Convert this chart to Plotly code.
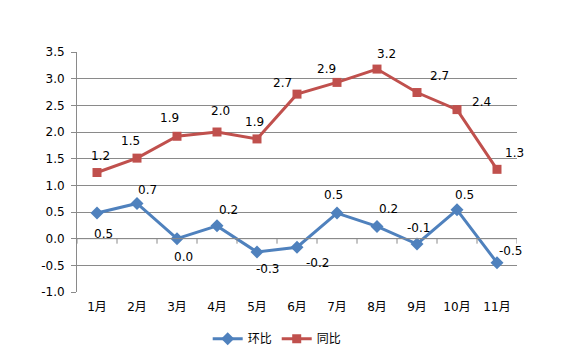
import plotly.graph_objects as go

months = ["1月", "2月", "3月", "4月", "5月", "6月", "7月", "8月", "9月", "10月", "11月"]
huanbi = [0.48, 0.66, 0.0, 0.24, -0.25, -0.16, 0.48, 0.23, -0.10, 0.54, -0.45]
tongbi = [1.24, 1.51, 1.92, 2.0, 1.87, 2.71, 2.93, 3.18, 2.74, 2.42, 1.30]
huanbi_labels = ["0.5", "0.7", "0.0", "0.2", "-0.3", "-0.2", "0.5", "0.2", "-0.1", "0.5", "-0.5"]
tongbi_labels = ["1.2", "1.5", "1.9", "2.0", "1.9", "2.7", "2.9", "3.2", "2.7", "2.4", "1.3"]
y_ticks = [3.5, 3.0, 2.5, 2.0, 1.5, 1.0, 0.5, 0.0, -0.5, -1.0]

# label offsets (pixels, style only)
hb_dx = [6, 10, 6, 11, 10, 20, -4, 11, 1, 7, 13]
hb_dy = [-21, 13, -18, 16, -17, -16, 18, 17, 16, 15, 12]
tb_dx = [3, -7, -8, 3, -3, -15, -11, 9, 22, 24, 17]
tb_dy = [17, 17, 18, 21, 17, 11, 13, 15, 17, 8, 16]

BLUE = "#4f81bd"
RED = "#c0504d"
GRID = "#8a8a8a"
FONT = "DejaVu Sans, Noto Sans CJK SC, sans-serif"

fig = go.Figure()
fig.add_trace(go.Scatter(x=months, y=huanbi, name="环比", mode="lines+markers",
                         line=dict(color=BLUE, width=3),
                         marker=dict(symbol="diamond", size=10, color=BLUE)))
fig.add_trace(go.Scatter(x=months, y=tongbi, name="同比", mode="lines+markers",
                         line=dict(color=RED, width=3),
                         marker=dict(symbol="square", size=9, color=RED)))

anns = []
for i, m in enumerate(months):
    anns.append(dict(x=m, y=huanbi[i], text=huanbi_labels[i], showarrow=False,
                     xshift=hb_dx[i], yshift=hb_dy[i], font=dict(size=12, color="#000", family=FONT)))
    anns.append(dict(x=m, y=tongbi[i], text=tongbi_labels[i], showarrow=False,
                     xshift=tb_dx[i], yshift=tb_dy[i], font=dict(size=12, color="#000", family=FONT)))

shapes = [dict(type="line", xref="x", yref="y", x0=-0.5, x1=10.5, y0=0, y1=0,
               line=dict(color=GRID, width=1))]
for k in range(12):
    shapes.append(dict(type="line", xref="x", yref="y", ysizemode="pixel", yanchor=0,
                       x0=k - 0.5, x1=k - 0.5, y0=0, y1=-5, line=dict(color=GRID, width=1)))

fig.update_layout(
    width=562, height=355,
    margin=dict(l=77, r=45, t=52, b=63, autoexpand=False),
    paper_bgcolor="white", plot_bgcolor="white",
    font=dict(family=FONT, size=12, color="#000"),
    showlegend=True,
    legend=dict(orientation="h", x=0.455, xanchor="center", y=-0.195, yanchor="middle",
                font=dict(size=12), itemwidth=30, tracegroupgap=0),
    annotations=anns,
    shapes=shapes,
    xaxis=dict(type="category", range=[-0.5, 10.5], showgrid=False, showline=False,
               zeroline=False, ticks="", tickfont=dict(size=12), automargin=False,
               ticklabelstandoff=6),
    yaxis=dict(range=[-1.0, 3.5], tickvals=y_ticks, ticktext=[f"{v:.1f}" for v in y_ticks],
               showgrid=True, gridcolor=GRID, gridwidth=1, zeroline=False,
               showline=True, linecolor=GRID, linewidth=1,
               ticks="outside", ticklen=5, tickcolor=GRID, tickwidth=1,
               tickfont=dict(size=12), automargin=False, ticklabelstandoff=4),
)

fig.write_html("out.html", config={"displayModeBar": False},
               post_script="document.body.style.margin='0';")
